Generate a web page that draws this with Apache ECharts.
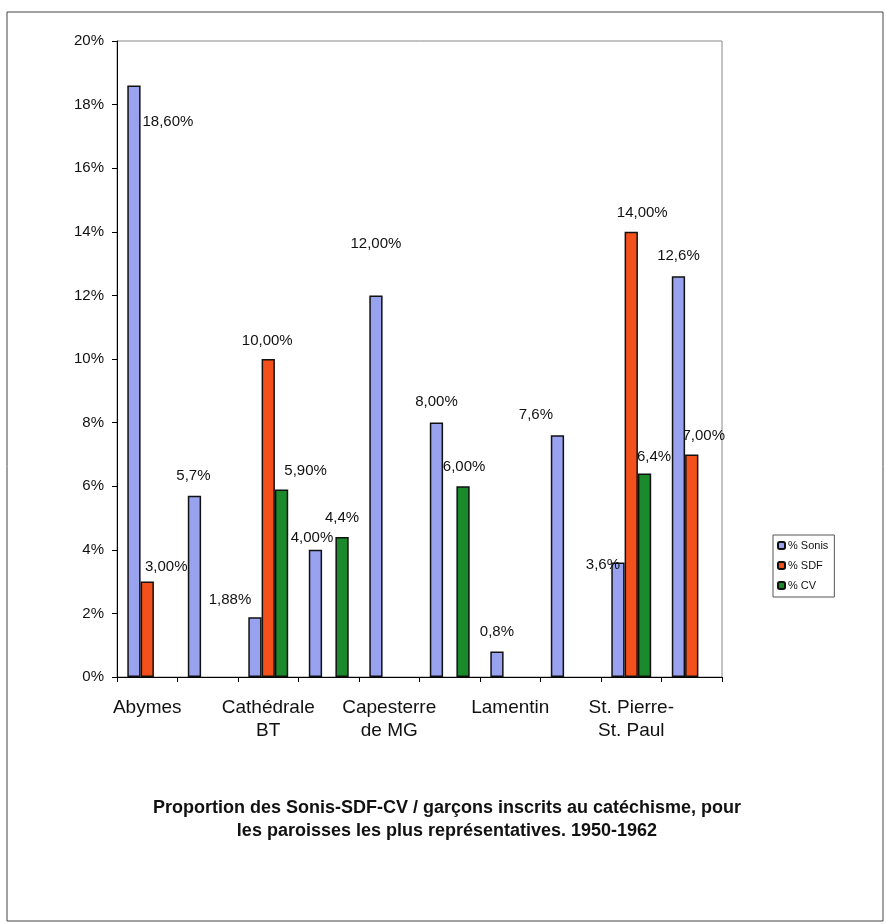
<!DOCTYPE html>
<html><head><meta charset="utf-8">
<script src="https://cdn.jsdelivr.net/npm/echarts@6/dist/echarts.min.js"></script>
<style>html,body{margin:0;padding:0;background:#fff}#c{width:886px;height:924px}</style>
</head><body><div id="c"></div>
<script>
// ---- data ----
const categories = ["Abymes", "", "Cathédrale\nBT", "", "Capesterre\nde MG", "", "Lamentin", "", "St. Pierre-\nSt. Paul", ""];
const seriesNames = ["% Sonis", "% SDF", "% CV"];
const sonis = [18.6, 5.7, 1.88, 4.0, 12.0, 8.0, 0.8, 7.6, 3.6, 12.6];
const sdf   = [3.0, null, 10.0, null, null, null, null, null, 14.0, 7.0];
const cv    = [null, null, 5.9, 4.4, null, 6.0, null, null, 6.4, null];
const sonisLabels = ["18,60%", "5,7%", "1,88%", "4,00%", "12,00%", "8,00%", "0,8%", "7,6%", "3,6%", "12,6%"];
const sdfLabels   = ["3,00%", "", "10,00%", "", "", "", "", "", "14,00%", "7,00%"];
const cvLabels    = ["", "", "5,90%", "4,4%", "", "6,00%", "", "", "6,4%", ""];
const yTicks = [0, 2, 4, 6, 8, 10, 12, 14, 16, 18, 20];
const titleText = "Proportion des Sonis-SDF-CV / garçons inscrits au catéchisme, pour\nles paroisses les plus représentatives. 1950-1962";

// ---- label placement (style, not data) ----
const sonisOffsets = [[34,44],[-1,-12],[-25,-9.5],[-3.5,-4.5],[0,-44],[0,-13],[0,-12],[-21.5,-12.5],[-15,10],[0,-12.5]];
const sdfOffsets   = [[19,-7],null,[-1,-10.5],null,null,null,null,null,[11,-11.5],[12,-11]];
const cvOffsets    = [null,null,[24,-11],[0,-11.5],null,[1,-11.5],null,null,[9.5,-9],null];

const FONT = "'Liberation Sans', Arial, sans-serif";
const colors = ["#98a2ee", "#f4501c", "#1b8a2c"];

function buildData(vals, labels, offs) {
  return vals.map((v, i) => {
    if (v === null) return null;
    return { value: v, label: { formatter: labels[i], offset: offs[i] || [0, 0] } };
  });
}
function makeSeries(idx, vals, labels, offs, z) {
  return {
    name: seriesNames[idx], type: "bar", z: z,
    barWidth: 13.3, barGap: "0%",
    itemStyle: { color: colors[idx], borderColor: "#111", borderWidth: 1.5 },
    label: { show: true, position: "top", distance: 0, fontFamily: FONT, fontSize: 15, lineHeight: 15, color: "#111" },
    data: buildData(vals, labels, offs)
  };
}

const chart = echarts.init(document.getElementById("c"), null, { renderer: "canvas" });
chart.setOption({
  backgroundColor: "#fff",
  animation: false,
  textStyle: { fontFamily: FONT },
  graphic: [{ type: "rect", shape: { x: 7, y: 12, width: 876, height: 909 }, style: { fill: "none", stroke: "#444", lineWidth: 1 }, z: -1 }],
  title: {
    text: titleText, left: 442, top: 792, textAlign: "center",
    textStyle: { fontFamily: FONT, fontSize: 18, fontWeight: "bold", lineHeight: 23, color: "#111" }
  },
  legend: {
    orient: "vertical", left: 773, top: 535,
    padding: [4, 6, 5, 4], itemGap: 7, itemWidth: 7, itemHeight: 7,
    borderColor: "#555", borderWidth: 1,
    textStyle: { fontFamily: FONT, fontSize: 11, lineHeight: 13, color: "#111", padding: [0, 0, 0, -2] },
    data: seriesNames
  },
  grid: { left: 117, right: 164, top: 41, bottom: 247, show: true, borderColor: "#888", borderWidth: 1, containLabel: false },
  xAxis: {
    type: "category", data: categories,
    axisLine: { lineStyle: { color: "#000", width: 1 } },
    axisTick: { show: true, interval: 0, length: 5, lineStyle: { color: "#000" } },
    axisLabel: { interval: 1, margin: 19, fontFamily: FONT, fontSize: 19, lineHeight: 23, color: "#111" }
  },
  yAxis: {
    type: "value", min: yTicks[0], max: yTicks[yTicks.length - 1], interval: yTicks[1] - yTicks[0],
    axisLine: { show: true, lineStyle: { color: "#000", width: 1 } },
    axisTick: { show: true, length: 5, lineStyle: { color: "#000" } },
    splitLine: { show: false },
    axisLabel: { margin: 13, fontFamily: FONT, fontSize: 15, color: "#111", formatter: "{value}%" }
  },
  series: [
    makeSeries(0, sonis, sonisLabels, sonisOffsets, 4),
    makeSeries(1, sdf, sdfLabels, sdfOffsets, 3),
    makeSeries(2, cv, cvLabels, cvOffsets, 2)
  ]
});
</script></body></html>
